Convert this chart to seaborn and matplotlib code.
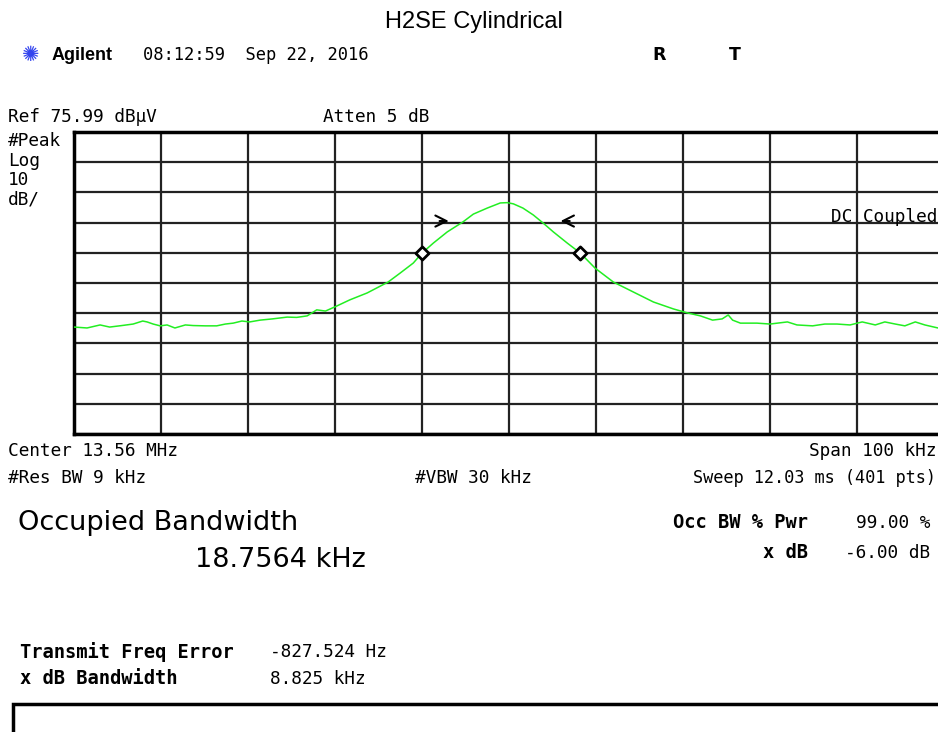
import numpy as np
import pandas as pd
import matplotlib
matplotlib.use("Agg")
import matplotlib.pyplot as plt
import seaborn as sns

# trace: offset from 13.56 MHz (kHz) and level (dBuV)
freq_khz = [-50.0, -48.5, -47.0, -45.9, -44.5, -43.2, -42.1, -41.6, -40.9, -40.1,
            -39.3, -38.4, -37.2, -36.3, -34.9, -33.6, -32.6, -31.7, -30.7, -29.8,
            -28.6, -27.2, -25.5, -24.4, -23.2, -22.1, -21.1, -20.0, -18.3, -16.3,
            -13.9, -12.5, -11.0, -10.0, -8.7, -7.1, -5.3, -4.1, -2.5, -1.0,
            -0.2, 0.5, 1.6, 2.8, 3.9, 5.1, 6.7, 8.2, 9.9, 12.0,
            14.3, 16.6, 18.9, 20.5, 22.0, 23.4, 24.5, 25.2, 25.7, 26.6,
            28.5, 30.0, 32.0, 33.1, 34.9, 36.3, 37.7, 39.2, 40.6, 42.1,
            43.2, 44.4, 45.5, 46.7, 47.8, 49.3, 50.0]
level_dbuv = [11.4, 11.1, 12.1, 11.4, 11.9, 12.4, 13.4, 13.1, 12.4, 11.8,
              12.1, 11.1, 12.1, 11.9, 11.8, 11.8, 12.4, 12.7, 13.4, 13.1,
              13.7, 14.1, 14.7, 14.6, 15.1, 17.1, 16.7, 18.1, 20.4, 22.7,
              26.3, 29.3, 32.6, 35.9, 39.2, 42.9, 46.2, 48.8, 50.8, 52.5,
              52.6, 52.2, 50.8, 48.5, 45.9, 42.9, 39.2, 35.9, 30.9, 26.3,
              23.0, 19.7, 17.4, 16.1, 15.1, 13.7, 14.1, 15.4, 13.7, 12.7,
              12.7, 12.4, 13.1, 12.1, 11.8, 12.4, 12.4, 12.1, 13.1, 12.1,
              13.1, 12.4, 11.8, 13.1, 12.1, 11.1, 11.5]

# occupied bandwidth markers and x dB arrows
obw_khz = [-10.0, 8.2]
obw_dbuv = [35.9, 35.9]
arrow_from = [-8.3, 7.3]
arrow_to = [-6.6, 5.6]
arrow_dbuv = 46.5

ref_level = 75.99
db_per_div = 10

W, H = 938, 732
sns.set_style("white")
plt.rcParams["font.family"] = ["DejaVu Sans Mono", "DejaVu Sans"]
plt.rcParams["text.color"] = "black"

fig = plt.figure(figsize=(W / 100, H / 100), dpi=100)


def fx(x):
    return x / W


def fy(y):
    return 1 - y / H


ax = fig.add_axes([fx(74), fy(434), (944 - 74) / W, 302 / H])
df = pd.DataFrame({"f": freq_khz, "L": level_dbuv})
sns.lineplot(data=df, x="f", y="L", ax=ax, color="#22ee22", linewidth=1.1, zorder=3)
mk = pd.DataFrame({"f": obw_khz, "L": obw_dbuv})
sns.scatterplot(data=mk, x="f", y="L", ax=ax, marker="D", s=45, facecolor="white",
                edgecolor="black", linewidth=2, zorder=4)
for a, b in zip(arrow_from, arrow_to):
    ax.annotate("", xy=(b, arrow_dbuv), xytext=(a, arrow_dbuv),
                arrowprops=dict(arrowstyle="->", color="black", lw=1.5,
                                mutation_scale=20), zorder=5)

ax.set_xlim(-50, 50)
ax.set_ylim(ref_level - 10 * db_per_div, ref_level)
ax.set_xticks(np.arange(-50, 51, 10))
ax.set_yticks(ref_level - np.arange(0, 101, db_per_div))
ax.tick_params(length=0, labelbottom=False, labelleft=False)
ax.grid(True, color="#222222", linewidth=1.6)
ax.set_axisbelow(True)
ax.set_xlabel("")
ax.set_ylabel("")
for s in ax.spines.values():
    s.set_linewidth(2.5)
    s.set_color("black")

mono = "DejaVu Sans Mono"
fig.text(fx(474), fy(22), "H2SE Cylindrical", ha="center", va="center",
         fontsize=17, family="Liberation Sans")
fig.text(fx(31), fy(55), "\u273a", ha="center", va="center", fontsize=15,
         color="#3344ee", family="DejaVu Sans")
fig.text(fx(52), fy(55), "Agilent", ha="left", va="center", fontsize=13,
         weight="bold", family="Liberation Sans")
fig.text(fx(143), fy(55), "08:12:59  Sep 22, 2016", ha="left", va="center",
         fontsize=12.3, family=mono)
fig.text(fx(659), fy(55), "R", ha="center", va="center", fontsize=12.5,
         weight="bold", family="DejaVu Sans")
fig.text(fx(735), fy(55), "T", ha="center", va="center", fontsize=12.5,
         weight="bold", family="DejaVu Sans")

small = 12.8
fig.text(fx(8), fy(117), "Ref 75.99 dB\u03bcV", ha="left", va="center", fontsize=small, family=mono)
fig.text(fx(323), fy(117), "Atten 5 dB", ha="left", va="center", fontsize=small, family=mono)
for y, t in [(141, "#Peak"), (161, "Log"), (180, "10"), (199, "dB/")]:
    fig.text(fx(8), fy(y), t, ha="left", va="center", fontsize=small, family=mono)
fig.text(fx(937), fy(217), "DC Coupled", ha="right", va="center", fontsize=small,
         family=mono, zorder=6)

fig.text(fx(8), fy(451), "Center 13.56 MHz", ha="left", va="center", fontsize=small, family=mono)
fig.text(fx(936), fy(451), "Span 100 kHz", ha="right", va="center", fontsize=small, family=mono)
fig.text(fx(8), fy(478), "#Res BW 9 kHz", ha="left", va="center", fontsize=small, family=mono)
fig.text(fx(415), fy(478), "#VBW 30 kHz", ha="left", va="center", fontsize=small, family=mono)
fig.text(fx(936), fy(478), "Sweep 12.03 ms (401 pts)", ha="right", va="center",
         fontsize=12.2, family=mono)

fig.text(fx(18), fy(523), "Occupied Bandwidth", ha="left", va="center", fontsize=19.5,
         family="DejaVu Sans")
fig.text(fx(195), fy(560), "18.7564 kHz", ha="left", va="center", fontsize=19.5,
         family="DejaVu Sans")
bold = 13.5
fig.text(fx(808), fy(523), "Occ BW % Pwr", ha="right", va="center", fontsize=bold,
         weight="bold", family=mono)
fig.text(fx(930), fy(523), "99.00 %", ha="right", va="center", fontsize=small, family=mono)
fig.text(fx(808), fy(553), "x dB", ha="right", va="center", fontsize=bold,
         weight="bold", family=mono)
fig.text(fx(930), fy(553), "-6.00 dB", ha="right", va="center", fontsize=small, family=mono)

fig.text(fx(20), fy(652), "Transmit Freq Error", ha="left", va="center", fontsize=bold,
         weight="bold", family=mono)
fig.text(fx(270), fy(652), "-827.524 Hz", ha="left", va="center", fontsize=small, family=mono)
fig.text(fx(20), fy(679), "x dB Bandwidth", ha="left", va="center", fontsize=bold,
         weight="bold", family=mono)
fig.text(fx(270), fy(679), "8.825 kHz", ha="left", va="center", fontsize=small, family=mono)

box = plt.Rectangle((fx(13), fy(745)), fx(940) - fx(13), fy(704) - fy(745),
                    transform=fig.transFigure, fill=False, edgecolor="black",
                    linewidth=2.5)
fig.patches.append(box)

fig.savefig("out.png", dpi=100)
